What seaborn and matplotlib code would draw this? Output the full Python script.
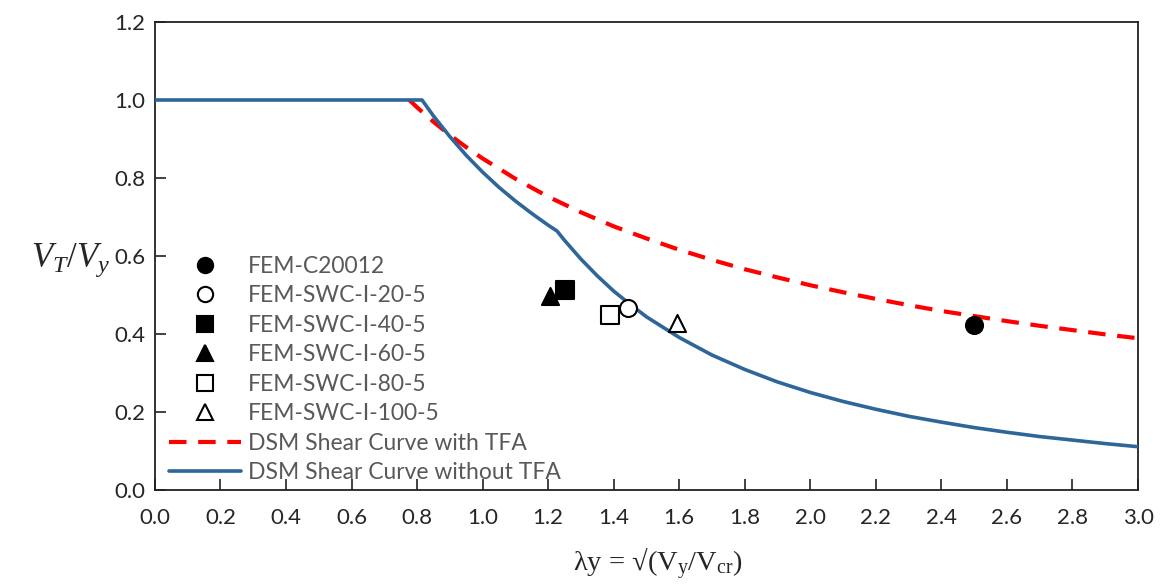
import matplotlib
matplotlib.use("Agg")
import matplotlib.pyplot as plt
import seaborn as sns
import pandas as pd
from matplotlib.lines import Line2D

# ---- data ----
blue_x = [0.0, 0.2, 0.4, 0.6, 0.815, 0.85, 0.9, 0.95, 1.0, 1.05, 1.1, 1.15, 1.2, 1.227,
          1.25, 1.3, 1.35, 1.4, 1.45, 1.5, 1.6, 1.7, 1.8, 1.9, 2.0, 2.1, 2.2, 2.3, 2.4,
          2.5, 2.6, 2.7, 2.8, 2.9, 3.0]
blue_y = [1.0, 1.0, 1.0, 1.0, 1.0, 0.959, 0.906, 0.858, 0.815, 0.776, 0.741, 0.709, 0.679, 0.664,
          0.640, 0.592, 0.549, 0.510, 0.476, 0.444, 0.391, 0.346, 0.309, 0.277, 0.250, 0.227,
          0.207, 0.189, 0.174, 0.160, 0.148, 0.137, 0.128, 0.119, 0.111]

red_x = [0.776, 0.8, 0.85, 0.9, 0.95, 1.0, 1.1, 1.2, 1.3, 1.4, 1.5, 1.6, 1.7, 1.8,
         1.9, 2.0, 2.1, 2.2, 2.3, 2.4, 2.5, 2.6, 2.7, 2.8, 2.9, 3.0]
red_y = [1.0, 0.981, 0.944, 0.910, 0.879, 0.850, 0.798, 0.752, 0.712, 0.676, 0.645,
         0.616, 0.590, 0.566, 0.545, 0.525, 0.507, 0.490, 0.474, 0.459, 0.446, 0.433, 0.421,
         0.410, 0.399, 0.389]

point_labels = ["FEM-C20012", "FEM-SWC-I-20-5", "FEM-SWC-I-40-5", "FEM-SWC-I-60-5",
                "FEM-SWC-I-80-5", "FEM-SWC-I-100-5"]
point_x = [2.50, 1.443, 1.251, 1.205, 1.389, 1.593]
point_y = [0.423, 0.467, 0.513, 0.497, 0.449, 0.428]

line_labels = ["DSM Shear Curve with TFA", "DSM Shear Curve without TFA"]
x_ticks = [0.0, 0.2, 0.4, 0.6, 0.8, 1.0, 1.2, 1.4, 1.6, 1.8, 2.0, 2.2, 2.4, 2.6, 2.8, 3.0]
y_ticks = [0.0, 0.2, 0.4, 0.6, 0.8, 1.0, 1.2]

# ---- style ----
sns.set_style("white")
plt.rcParams['font.family'] = ['Lato', 'DejaVu Sans']
plt.rcParams['mathtext.fontset'] = 'custom'
plt.rcParams['mathtext.rm'] = 'Liberation Serif'
plt.rcParams['mathtext.it'] = 'Liberation Serif:italic'

fig = plt.figure(figsize=(11.66, 5.85), dpi=100)
ax = fig.add_axes([0.1329, 0.1624, 0.8431, 0.8000])

RED = '#FF0000'
BLUE = '#2E6699'
DASH = (0, (4.2, 2.8))

sns.lineplot(x=red_x, y=red_y, ax=ax, color=RED, lw=3.0, sort=False, estimator=None,
             linestyle=DASH, zorder=2)
sns.lineplot(x=blue_x, y=blue_y, ax=ax, color=BLUE, lw=2.6, sort=False, estimator=None,
             zorder=3)

styles = [
    dict(marker='o', facecolor='black'),
    dict(marker='o', facecolor='white'),
    dict(marker='s', facecolor='black'),
    dict(marker='^', facecolor='black'),
    dict(marker='s', facecolor='white'),
    dict(marker='^', facecolor='white'),
]
df = pd.DataFrame({"x": point_x, "y": point_y, "label": point_labels})
handles = []
for i, st in enumerate(styles):
    sub = df.iloc[[i]]
    sns.scatterplot(data=sub, x="x", y="y", ax=ax, marker=st['marker'], s=150,
                    facecolor=st['facecolor'], edgecolor='black', linewidth=1.5, zorder=4)
    handles.append(Line2D([], [], linestyle='none', marker=st['marker'], markersize=11,
                          markerfacecolor=st['facecolor'], markeredgecolor='black',
                          markeredgewidth=1.5, label=point_labels[i]))
handles.append(Line2D([], [], color=RED, lw=3.0, linestyle=DASH, label=line_labels[0]))
handles.append(Line2D([], [], color=BLUE, lw=2.6, label=line_labels[1]))

ax.set_xlim(0, 3.0)
ax.set_ylim(0, 1.2)
ax.set_xticks(x_ticks)
ax.set_yticks(y_ticks)
ax.set_xticklabels([f"{v:.1f}" for v in x_ticks], fontsize=16)
ax.set_yticklabels([f"{v:.1f}" for v in y_ticks], fontsize=16)
ax.tick_params(axis='both', direction='in', length=8, width=1.2, color='#222222',
               bottom=True, left=True, top=False, right=False)
ax.tick_params(axis='x', pad=13)
ax.tick_params(axis='y', pad=7)
for side in ['left', 'bottom', 'right', 'top']:
    ax.spines[side].set_visible(True)
    ax.spines[side].set_color('#222222')
    ax.spines[side].set_linewidth(1.3)

ax.set_xlabel(r'λy = √(V$_\mathrm{y}$/V$_\mathrm{cr}$)', fontsize=20.5,
              family=['Liberation Serif', 'DejaVu Serif'], va='center')
ax.xaxis.set_label_coords(0.512, -0.158)
ax.set_ylabel(r'$V_T/V_y$', fontsize=25, rotation=0, va='center', ha='center')
ax.yaxis.set_label_coords(-0.086, 0.49)

leg = ax.legend(handles=handles, loc='upper left', bbox_to_anchor=(0.005, 0.52),
                frameon=False, fontsize=16.5, handlelength=3.15, labelspacing=0.37,
                handletextpad=0.3, borderaxespad=0)
for t in leg.get_texts():
    t.set_color('#595959')

fig.savefig("out.png", dpi=100)
